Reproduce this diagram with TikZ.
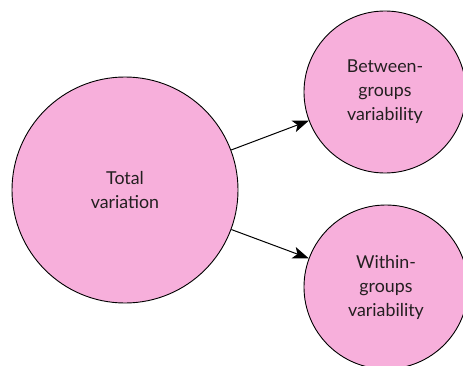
\documentclass[tikz,border=0pt]{standalone}
\usepackage{fontspec}
\setmainfont{Lato}
\usetikzlibrary{arrows.meta}
\definecolor{pinkfill}{RGB}{247,175,219}
\definecolor{txt}{RGB}{35,31,32}
\begin{document}
\begin{tikzpicture}[x=1pt,y=1pt,
  bubble/.style={circle,draw=black,line width=0.9pt,fill=pinkfill,inner sep=0pt,
    align=center,text=txt,font=\fontsize{17.8}{24}\selectfont},
  link/.style={line width=1pt,-{Stealth[length=16pt,width=12pt,inset=4pt]}}]
\useasboundingbox (0,0) rectangle (463,365);
\clip (0,0) rectangle (463,365);
\node[bubble,minimum size=226pt] (T) at (125,175) {Total\\variation};
\node[bubble,minimum size=162pt] (B) at (385,273) {Between-\\groups\\variability};
\node[bubble,minimum size=164pt] (W) at (386,78) {Within-\\groups\\variability};
\draw[link] (T) -- (B);
\draw[link] (T) -- (W);
\end{tikzpicture}
\end{document}
